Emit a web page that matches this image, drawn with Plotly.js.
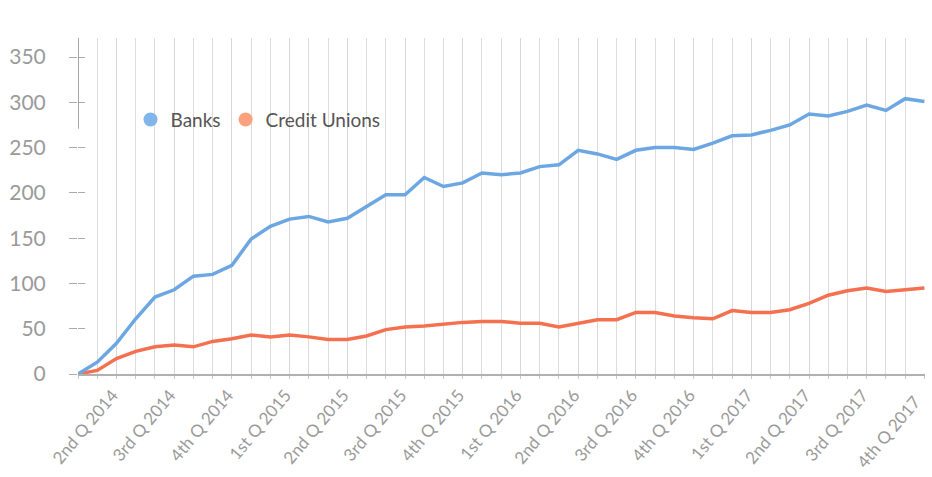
<!DOCTYPE html>
<html>
<head>
<meta charset="utf-8">
<script src="https://cdn.plot.ly/plotly-3.0.1.min.js"></script>
<style>html,body{margin:0;padding:0;background:#fff;}#chart{width:932px;height:477px;}</style>
</head>
<body>
<div id="chart"></div>
<script>
const months = [
  "Apr 2014","May 2014","Jun 2014","Jul 2014","Aug 2014","Sep 2014","Oct 2014","Nov 2014","Dec 2014",
  "Jan 2015","Feb 2015","Mar 2015","Apr 2015","May 2015","Jun 2015","Jul 2015","Aug 2015","Sep 2015","Oct 2015","Nov 2015","Dec 2015",
  "Jan 2016","Feb 2016","Mar 2016","Apr 2016","May 2016","Jun 2016","Jul 2016","Aug 2016","Sep 2016","Oct 2016","Nov 2016","Dec 2016",
  "Jan 2017","Feb 2017","Mar 2017","Apr 2017","May 2017","Jun 2017","Jul 2017","Aug 2017","Sep 2017","Oct 2017","Nov 2017","Dec 2017"
];
const banks = [0,13,34,61,85,93,108,110,120,149,163,171,174,168,172,185,198,198,217,207,211,222,220,222,229,231,247,243,237,247,250,250,248,255,263,264,269,275,287,285,290,297,291,304,301];
const creditUnions = [0,4,17,25,30,32,30,36,39,43,41,43,41,38,38,42,49,52,53,55,57,58,58,56,56,52,56,60,60,68,68,64,62,61,70,68,68,71,78,87,92,95,91,93,95];
const quarterMonths = ["Jun 2014","Sep 2014","Dec 2014","Mar 2015","Jun 2015","Sep 2015","Dec 2015","Mar 2016","Jun 2016","Sep 2016","Dec 2016","Mar 2017","Jun 2017","Sep 2017","Dec 2017"];
const quarterLabels = ["2nd Q 2014","3rd Q 2014","4th Q 2014","1st Q 2015","2nd Q 2015","3rd Q 2015","4th Q 2015","1st Q 2016","2nd Q 2016","3rd Q 2016","4th Q 2016","1st Q 2017","2nd Q 2017","3rd Q 2017","4th Q 2017"];
const yTicks = [0,50,100,150,200,250,300,350];

const xIdx = months.map((m, i) => i);
const tickIdx = quarterMonths.map(m => months.indexOf(m));
// the last label sits a little inside the right edge, as in the reference
const tickText = quarterLabels.map((t, i) => i === quarterLabels.length - 1 ? t + '\u00a0\u00a0' : t);

const blueLine = '#6ca7e3', orangeLine = '#f4704f';
const blueLegend = '#80b6ea', orangeLegend = '#fba17d';
const FONT = 'Lato, "Open Sans", sans-serif';

const traces = [
  {x: xIdx, y: creditUnions, type: 'scatter', mode: 'lines', name: 'Credit Unions', showlegend: false,
   line: {color: orangeLine, width: 3.5}, hoverinfo: 'y'},
  {x: xIdx, y: banks, type: 'scatter', mode: 'lines', name: 'Banks', showlegend: false,
   line: {color: blueLine, width: 3.5}, hoverinfo: 'y'},
  {x: [null], y: [null], type: 'scatter', mode: 'markers', name: 'Banks',
   marker: {symbol: 'circle', size: 14, color: blueLegend}},
  {x: [null], y: [null], type: 'scatter', mode: 'markers', name: 'Credit Unions',
   marker: {symbol: 'circle', size: 14, color: orangeLegend}},
  {x: [null], y: [null], yaxis: 'y2', type: 'scatter', mode: 'lines', showlegend: false, hoverinfo: 'skip'}
];

const layout = {
  width: 932, height: 477,
  margin: {l: 78, r: 7, t: 38, b: 103},
  paper_bgcolor: '#fff', plot_bgcolor: '#fff',
  font: {family: FONT, color: '#999'},
  showlegend: true,
  legend: {orientation: 'h', x: 0.062, y: 0.757, xanchor: 'left', yanchor: 'middle',
           font: {family: FONT, size: 19, color: '#555'}, bgcolor: 'rgba(0,0,0,0)', traceorder: 'normal'},
  xaxis: {
    range: [0, 44.03], tickmode: 'array', tickvals: tickIdx, ticktext: tickText,
    tickangle: -50, tickfont: {family: FONT, size: 17, color: '#9a9a9a'},
    ticklabeloverflow: 'allow', ticklabelshift: -4,
    showgrid: true, gridcolor: '#d6d6d6', gridwidth: 1,
    minor: {tick0: 0, dtick: 1, showgrid: true, gridcolor: '#dcdcdc', gridwidth: 1, ticks: 'outside', ticklen: 3, tickcolor: '#c8c8c8'},
    ticks: 'outside', ticklen: 3, tickcolor: '#c8c8c8',
    showline: true, linecolor: '#b0b0b0', linewidth: 1.5, zeroline: false, fixedrange: true
  },
  yaxis: {
    range: [0, 371], tickmode: 'array', tickvals: yTicks,
    showgrid: false, zeroline: false, showline: false,
    ticks: 'outside', ticklen: 8, tickcolor: '#aaa', tickwidth: 1,
    ticklabelstandoff: 19,
    tickfont: {family: FONT, size: 21, color: '#9a9a9a'}, fixedrange: true
  },
  yaxis2: {
    overlaying: 'y', side: 'left', range: [0, 371], tickmode: 'array', tickvals: yTicks,
    showticklabels: false, showgrid: false, zeroline: false, showline: false,
    ticks: 'inside', ticklen: 7, tickcolor: '#aaa', tickwidth: 1, fixedrange: true
  },
  shapes: [
    {type: 'line', xref: 'x', yref: 'paper', x0: 0, x1: 0, y0: 0.73, y1: 1.0,
     line: {color: '#8a8a8a', width: 1.5}}
  ]
};

Plotly.newPlot('chart', traces, layout, {displayModeBar: false, staticPlot: true});
</script>
</body>
</html>
